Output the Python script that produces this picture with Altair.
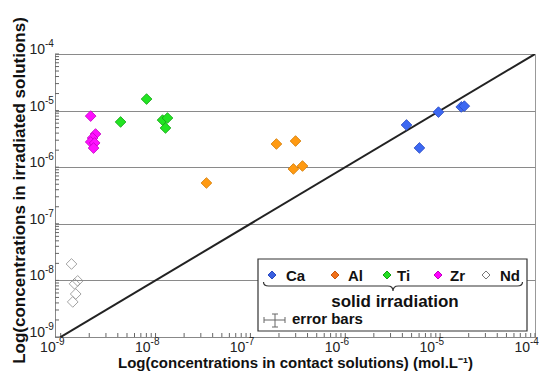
import altair as alt
import pandas as pd

# ---- data (mol/L) ----
ca_x = [4.42e-6, 9.6e-6, 1.67e-5, 1.80e-5, 6.05e-6]
ca_y = [5.57e-6, 9.4e-6, 1.16e-5, 1.2e-5, 2.19e-6]
al_x = [3.44e-8, 1.88e-7, 2.99e-7, 2.84e-7, 3.54e-7]
al_y = [5.26e-7, 2.57e-6, 2.9e-6, 9.3e-7, 1.05e-6]
ti_x = [8.04e-9, 4.28e-9, 1.185e-8, 1.336e-8, 1.273e-8]
ti_y = [1.6e-5, 6.3e-6, 6.8e-6, 7.4e-6, 4.93e-6]
zr_x = [2.07e-9, 2.33e-9, 2.17e-9, 2.07e-9, 2.28e-9, 2.22e-9]
zr_y = [8.0e-6, 3.86e-6, 3.28e-6, 2.79e-6, 2.68e-6, 2.18e-6]
nd_x = [1.30e-9, 1.51e-9, 1.40e-9, 1.44e-9, 1.34e-9]
nd_y = [1.95e-8, 9.8e-9, 8.7e-9, 5.75e-9, 4.17e-9]

elements = ["Ca", "Al", "Ti", "Zr", "Nd"]
decades = [1e-9, 1e-8, 1e-7, 1e-6, 1e-5, 1e-4]
exponents = ["-9", "-8", "-7", "-6", "-5", "-4"]
x_min = 10 ** -9.06
diag = [x_min, 1e-4]

x_title = "Log(concentrations in contact solutions) (mol.L\u207b\u00b9)"
y_title = "Log(concentrations in irradiated solutions)"
legend_title = "solid irradiation"
err_label = "error bars"

FONT = "Liberation Sans"
W, H = 480, 283

rows = []
for name, xs_, ys_ in [("Ca", ca_x, ca_y), ("Al", al_x, al_y), ("Ti", ti_x, ti_y),
                       ("Zr", zr_x, zr_y), ("Nd", nd_x, nd_y)]:
    for a, b in zip(xs_, ys_):
        rows.append({"x": a, "y": b, "element": name})
df = pd.DataFrame(rows)

fills = ["#3C68F2", "#FF9A12", "#22E422", "#FF10FF", "transparent"]
strokes = ["#2747C0", "#D07800", "#14A014", "#C000C0", "#8C8C8C"]

xs = alt.Scale(type="log", domain=[x_min, 1e-4], nice=False)
ys = alt.Scale(type="log", domain=[1e-9, 1e-4], nice=False)

xax = alt.Axis(values=decades, labels=False, ticks=False, tickSize=0, grid=False,
               domainColor="#888",
               title=x_title, titleFont=FONT, titleFontSize=15, titleFontWeight="bold",
               titleColor="#111", titleX=W / 2, titleY=30, titleBaseline="alphabetic",
               titleAlign="center")
yax = alt.Axis(values=decades, labels=False, ticks=False, tickSize=0, grid=True,
               gridColor="#8a8a8a", gridWidth=1, domainColor="#888",
               title=y_title, titleFont=FONT, titleFontSize=17, titleFontWeight="bold",
               titleColor="#111", titleX=-36, titleY=136, titleAngle=270,
               titleBaseline="middle", titleAlign="center")

X = alt.X("x:Q", scale=xs, axis=xax)
Y = alt.Y("y:Q", scale=ys, axis=yax)

minor = [m * 10 ** e for e in range(-9, -4) for m in range(1, 10)] + [1e-4]
minor_x = pd.DataFrame({"x": minor})
minor_y = pd.DataFrame({"y": minor})

xticks = alt.Chart(minor_x).mark_rule(color="#666", strokeWidth=1).encode(
    x=X, y=alt.value(H), y2=alt.value(H - 4))
yticks = alt.Chart(minor_y).mark_rule(color="#666", strokeWidth=1).encode(
    y=Y, x=alt.value(0), x2=alt.value(4))

# tick labels as 10 + raised exponent
lab_x = pd.DataFrame({"x": decades, "e": exponents})
lab_y = pd.DataFrame({"y": decades, "e": exponents})
txt = dict(font=FONT, color="#222")
xl10 = alt.Chart(lab_x).mark_text(text="10", fontSize=14, align="right", baseline="alphabetic",
                                  dx=-5, **txt).encode(x=X, y=alt.value(H + 15))
xlex = alt.Chart(lab_x).mark_text(fontSize=10, align="left", baseline="alphabetic",
                                  dx=-5, **txt).encode(x=X, y=alt.value(H + 8), text="e:N")
yl10 = alt.Chart(lab_y).mark_text(text="10", fontSize=14, align="right", baseline="alphabetic",
                                  **txt).encode(y=Y, x=alt.value(-10))
ylex = alt.Chart(lab_y).mark_text(fontSize=10, align="left", baseline="alphabetic",
                                  dy=-7, **txt).encode(y=Y, x=alt.value(-10), text="e:N")

line = alt.Chart(pd.DataFrame({"x": diag, "y": diag})).mark_line(
    color="#222", strokeWidth=2, clip=True).encode(x=X, y=Y)

pts = alt.Chart(df).mark_point(shape="diamond", filled=True, size=115, strokeWidth=0.8,
                               opacity=1).encode(
    x=X, y=Y,
    fill=alt.Fill("element:N", scale=alt.Scale(domain=elements, range=fills), legend=None),
    stroke=alt.Stroke("element:N", scale=alt.Scale(domain=elements, range=strokes), legend=None),
)

one = alt.Data(values=[{}])
layers = [xticks, yticks, xl10, xlex, yl10, ylex, line, pts]

# ---- custom legend ----
layers.append(alt.Chart(one).mark_rect(fill="white", stroke="#333", strokeWidth=1.2).encode(
    x=alt.value(203), x2=alt.value(472), y=alt.value(205), y2=alt.value(277)))
leg_fill = ["#3A5FE0", "#F07018", "#22DD22", "#FF00FF", "white"]
leg_stroke = ["#2A4BC0", "#C85810", "#12A012", "#C000C0", "#777777"]
mx = [217, 280, 332, 383, 431]
tx = [231, 293, 342, 395, 445]
for i, name in enumerate(elements):
    layers.append(alt.Chart(one).mark_point(shape="diamond", filled=True, size=64,
                                            fill=leg_fill[i], stroke=leg_stroke[i],
                                            strokeWidth=1, opacity=1).encode(
        x=alt.value(mx[i]), y=alt.value(221)))
    layers.append(alt.Chart(one).mark_text(text=name, font=FONT, fontSize=15, fontWeight="bold",
                                           align="left", baseline="middle", color="#111").encode(
        x=alt.value(tx[i]), y=alt.value(222)))
brace = "M -1 -0.031 Q -1 0 -0.96 0 L -0.04 0 Q 0 0 0 0.039 Q 0 0 0.04 0 L 0.96 0 Q 1 0 1 -0.031"
layers.append(alt.Chart(one).mark_point(shape=brace, filled=False, size=259 ** 2,
                                        stroke="#333", strokeWidth=1.2, opacity=1).encode(
    x=alt.value(338), y=alt.value(232)))
layers.append(alt.Chart(one).mark_text(text=legend_title, font=FONT, fontSize=17, fontWeight="bold",
                                       align="center", baseline="middle", color="#111").encode(
    x=alt.value(340), y=alt.value(248)))
layers.append(alt.Chart(one).mark_text(text=err_label, font=FONT, fontSize=15, fontWeight="bold",
                                       align="left", baseline="middle", color="#111").encode(
    x=alt.value(237), y=alt.value(265)))
eb = "#666"
for (a, b, c, d) in [(209, 230, 266, 266), (209, 209, 263, 269), (230, 230, 263, 269),
                     (220, 220, 260, 273), (217, 223, 260, 260), (217, 223, 273, 273)]:
    layers.append(alt.Chart(one).mark_rule(color=eb, strokeWidth=1).encode(
        x=alt.value(a), x2=alt.value(b), y=alt.value(c), y2=alt.value(d)))

chart = alt.layer(*layers).properties(
    width=W, height=H,
    padding={"left": 55, "top": 54, "right": 4, "bottom": 35},
    autosize=alt.AutoSizeParams(type="none"),
).configure_view(stroke="#999", strokeWidth=1)

chart.save("out.html", embed_options={"renderer": "svg", "actions": False})
